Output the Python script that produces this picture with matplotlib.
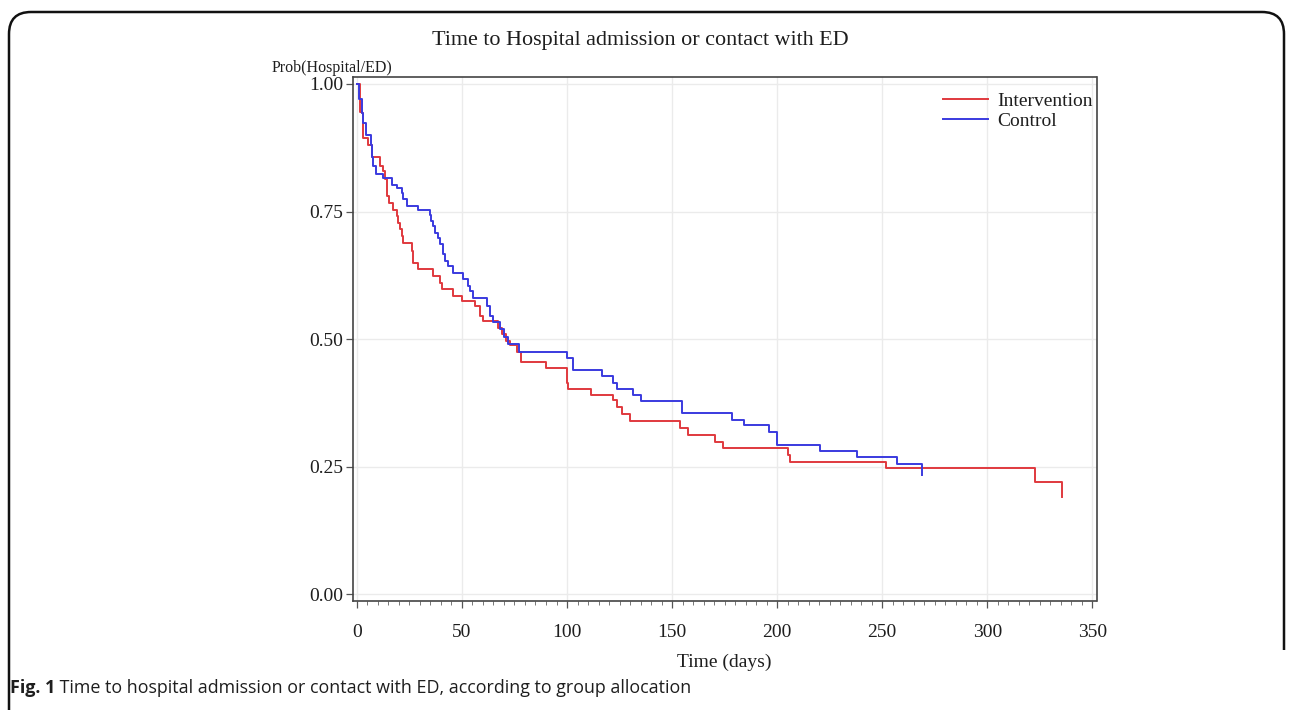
import matplotlib
matplotlib.use("Agg")
import matplotlib.pyplot as plt
from matplotlib.path import Path
from matplotlib.patches import PathPatch
from matplotlib.ticker import MultipleLocator

# ---- data ----
title = "Time to Hospital admission or contact with ED"
ylabel = "Prob(Hospital/ED)"
xlabel = "Time (days)"
caption_bold = "Fig. 1"
caption_text = " Time to hospital admission or contact with ED, according to group allocation"
series_names = ["Intervention", "Control"]

int_days = [0, 1.4, 2.2, 2.9, 3.0, 5.4, 7.3, 11.1, 12.2, 13.3, 14.1, 15.4, 17.3, 18.9,
            19.7, 20.5, 21.3, 22.1, 26.0, 26.8, 29.2, 36.4, 39.5, 40.3, 45.9, 49.8,
            56.2, 58.6, 60.0, 67.0, 69.0, 71.0, 73.0, 76.0, 78.0, 90.0, 99.8, 100.6,
            111.4, 122.1, 123.7, 126.1, 130.0, 153.8, 157.8, 170.5, 174.4, 205.0,
            206.2, 251.9, 322.9, 335.6]
int_surv = [1.0, 0.946, 0.943, 0.918, 0.894, 0.881, 0.857, 0.840, 0.830, 0.813, 0.780,
            0.767, 0.754, 0.741, 0.728, 0.715, 0.702, 0.689, 0.672, 0.650, 0.637, 0.624,
            0.611, 0.598, 0.585, 0.575, 0.565, 0.546, 0.535, 0.522, 0.510, 0.497, 0.488,
            0.475, 0.455, 0.443, 0.415, 0.403, 0.391, 0.380, 0.367, 0.354, 0.339, 0.325,
            0.312, 0.299, 0.286, 0.273, 0.260, 0.247, 0.220, 0.191]

ctl_days = [0, 1.2, 2.2, 3.0, 4.3, 6.5, 7.3, 7.8, 9.0, 12.2, 16.5, 18.9, 21.3, 22.1,
            23.7, 29.2, 34.8, 35.5, 36.4, 37.1, 38.7, 39.5, 41.1, 41.9, 43.5, 45.9,
            50.6, 53.0, 53.8, 55.1, 61.7, 63.3, 65.0, 68.0, 70.0, 72.0, 77.0, 99.8,
            103.0, 116.5, 122.0, 123.7, 131.3, 135.3, 154.6, 178.4, 184.0, 196.3,
            199.8, 220.5, 237.9, 257.0, 268.9]
ctl_surv = [1.0, 0.970, 0.943, 0.923, 0.900, 0.881, 0.857, 0.839, 0.824, 0.816, 0.803,
            0.796, 0.787, 0.774, 0.760, 0.754, 0.744, 0.731, 0.721, 0.708, 0.699, 0.686,
            0.666, 0.653, 0.643, 0.630, 0.617, 0.604, 0.594, 0.581, 0.565, 0.546, 0.533,
            0.520, 0.505, 0.490, 0.475, 0.464, 0.440, 0.428, 0.415, 0.403, 0.391, 0.378,
            0.355, 0.342, 0.331, 0.319, 0.293, 0.281, 0.269, 0.256, 0.234]

x_ticks = [0, 50, 100, 150, 200, 250, 300, 350]
y_ticks = [0.00, 0.25, 0.50, 0.75, 1.00]

# ---- figure ----
W, H = 1292, 710
fig = plt.figure(figsize=(W / 100, H / 100), dpi=100)
serif = ["Liberation Serif", "DejaVu Serif"]
ink = "#1e1e1e"

ax = fig.add_axes([352.7 / W, 1 - 600.7 / H, (1096.5 - 352.7) / W, (600.7 - 77) / H])
ax.step(int_days, int_surv, where="post", color="#e0393e", lw=1.4, label=series_names[0])
ax.step(ctl_days, ctl_surv, where="post", color="#3a3adf", lw=1.4, label=series_names[1])

ax.set_xlim(-2.0, 352.0)
ax.set_ylim(-0.0125, 1.0137)
ax.set_xticks(x_ticks)
ax.set_yticks(y_ticks)
ax.set_yticklabels([f"{v:.2f}" for v in y_ticks])
ax.xaxis.set_minor_locator(MultipleLocator(5))
ax.grid(True, which="major", color="#ebebeb", lw=1.0)
ax.set_axisbelow(True)
for s in ax.spines.values():
    s.set_color("#444444")
    s.set_linewidth(1.2)
ax.tick_params(axis="y", which="major", direction="out", length=5, width=0.9,
               color="#555555", labelsize=14, pad=2)
ax.tick_params(axis="x", which="major", direction="out", length=5, width=0.9,
               color="#555555", labelsize=14, pad=12)
ax.tick_params(axis="x", which="minor", direction="out", length=3, width=0.7, color="#777777")
for lab in ax.get_xticklabels() + ax.get_yticklabels():
    lab.set_fontfamily(serif)
    lab.set_color(ink)

leg = ax.legend(loc="upper right", frameon=False, prop={"family": serif, "size": 14},
                handlelength=2.3, handletextpad=0.45, labelspacing=0.12,
                borderaxespad=0.0, bbox_to_anchor=(1.005, 0.985))
for t in leg.get_texts():
    t.set_color(ink)

fig.text(640 / W, 1 - 40 / H, title, ha="center", va="center", family=serif,
         fontsize=15.9, color=ink)
fig.text(392 / W, 1 - 68 / H, ylabel, ha="right", va="center", family=serif,
         fontsize=11.5, color=ink)
fig.text(724.6 / W, 1 - 662 / H, xlabel, ha="center", va="center", family=serif,
         fontsize=14, color=ink)

# caption
cb = fig.text(10 / W, 1 - 688 / H, caption_bold, ha="left", va="center",
              family="Open Sans", fontweight="bold", fontsize=12.9, color=ink)
fig.canvas.draw()
bb = cb.get_window_extent()
fig.text(bb.x1 / W, 1 - 688 / H, caption_text, ha="left", va="center",
         family="Open Sans", fontsize=12.9, color=ink)

# rounded frame
r = 22
x0, y0, x1, y1 = 9, 12, 1284, 650
verts = [(x0, 0), (x0, H - y0 - r), (x0, H - y0), (x0 + r, H - y0),
         (x1 - r, H - y0), (x1, H - y0), (x1, H - y0 - r), (x1, H - y1)]
codes = [Path.MOVETO, Path.LINETO, Path.CURVE3, Path.CURVE3,
         Path.LINETO, Path.CURVE3, Path.CURVE3, Path.LINETO]
frame = PathPatch(Path([(vx / W, vy / H) for vx, vy in verts], codes),
                  transform=fig.transFigure, fill=False, lw=1.8, color="#111111")
fig.patches.append(frame)

fig.savefig("out.png", dpi=100)
